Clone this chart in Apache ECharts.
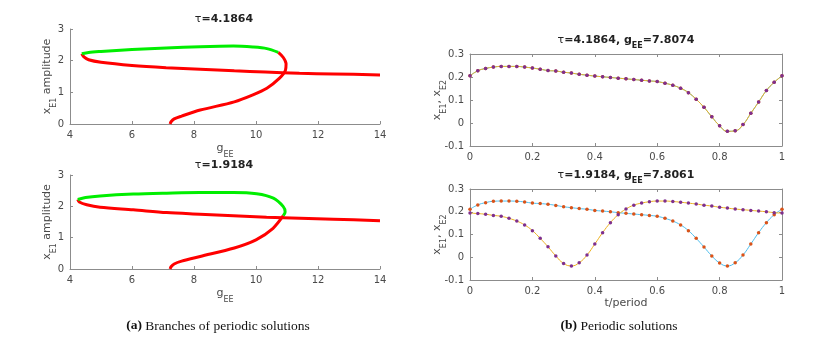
<!DOCTYPE html>
<html>
<head>
<meta charset="utf-8">
<script src="https://cdn.jsdelivr.net/npm/echarts@6/dist/echarts.min.js"></script>
<style>
  html, body { margin: 0; padding: 0; background: #fff; }
  #chart { width: 829px; height: 340px; }
</style>
</head>
<body>
<div id="chart"></div>
<script>
// branches, tau = 4.1864 (top left)
var t1RedLowG = [7.23, 7.26, 7.36, 7.6, 8.2, 9.3, 9.9, 10.35, 10.75, 10.95, 10.97, 10.88, 10.72];
var t1RedLowA = [0, 0.07, 0.16, 0.25, 0.44, 0.7, 0.92, 1.13, 1.44, 1.7, 1.9, 2.1, 2.26];
var t1GreenG = [10.72, 10.35, 9.9, 9.27, 8.2, 7.1, 6.0, 5.0, 4.6, 4.38];
var t1GreenA = [2.26, 2.38, 2.43, 2.46, 2.44, 2.4, 2.35, 2.29, 2.26, 2.22];
var t1RedUpG = [4.38, 4.45, 4.6, 5.0, 6.0, 7.1, 8.2, 9.3, 10.3, 11.4, 12.5, 14];
var t1RedUpA = [2.22, 2.12, 2.03, 1.95, 1.85, 1.78, 1.73, 1.68, 1.64, 1.6, 1.58, 1.55];

// branches, tau = 1.9184 (bottom left)
var t2RedLowG = [7.23, 7.26, 7.36, 7.6, 8.2, 9.3, 10.0, 10.55, 10.88];
var t2RedLowA = [0, 0.07, 0.16, 0.25, 0.4, 0.67, 0.93, 1.3, 1.7];
var t2GreenG = [10.88, 10.94, 10.88, 10.56, 10.02, 9.27, 8.19, 7.12, 6.04, 4.97, 4.5, 4.25];
var t2GreenA = [1.7, 1.82, 1.99, 2.26, 2.4, 2.44, 2.44, 2.42, 2.39, 2.33, 2.28, 2.22];
var t2RedUpG = [4.25, 4.3, 4.54, 4.97, 6.04, 7.12, 8.19, 9.27, 10.34, 11.42, 12.5, 14];
var t2RedUpA = [2.22, 2.14, 2.05, 1.97, 1.89, 1.8, 1.75, 1.7, 1.65, 1.62, 1.59, 1.54];

// periodic solutions, t/period
var tPeriod = [0, 0.025, 0.05, 0.075, 0.1, 0.125, 0.15, 0.175, 0.2, 0.225, 0.25, 0.275, 0.3, 0.325, 0.35, 0.375, 0.4,
  0.425, 0.45, 0.475, 0.5, 0.525, 0.55, 0.575, 0.6, 0.625, 0.65, 0.675, 0.7, 0.725, 0.75, 0.775, 0.8, 0.825, 0.85,
  0.875, 0.9, 0.925, 0.95, 0.975, 1];

// tau = 4.1864, gEE = 7.8074 (xE1 and xE2 coincide)
var sync = [0.205, 0.227, 0.237, 0.243, 0.246, 0.246, 0.246, 0.243, 0.239, 0.234, 0.228, 0.226, 0.221, 0.217, 0.212,
  0.208, 0.204, 0.201, 0.198, 0.195, 0.192, 0.189, 0.186, 0.183, 0.180, 0.173, 0.164, 0.151, 0.132, 0.103, 0.068,
  0.027, -0.012, -0.036, -0.034, -0.007, 0.042, 0.091, 0.141, 0.177, 0.205];

// tau = 1.9184, gEE = 7.8061
var antiE1 = [0.211, 0.230, 0.240, 0.246, 0.247, 0.247, 0.246, 0.243, 0.238, 0.236, 0.233, 0.228, 0.222, 0.218, 0.214,
  0.211, 0.206, 0.203, 0.200, 0.196, 0.193, 0.190, 0.187, 0.184, 0.180, 0.171, 0.159, 0.142, 0.117, 0.083, 0.045,
  0.006, -0.025, -0.038, -0.024, 0.010, 0.058, 0.108, 0.152, 0.187, 0.211];
var antiE2 = [0.194, 0.192, 0.189, 0.184, 0.180, 0.171, 0.159, 0.142, 0.117, 0.083, 0.046, 0.006, -0.027, -0.038,
  -0.024, 0.010, 0.058, 0.108, 0.152, 0.187, 0.212, 0.229, 0.238, 0.244, 0.247, 0.247, 0.245, 0.242, 0.238, 0.234,
  0.229, 0.225, 0.220, 0.216, 0.212, 0.209, 0.206, 0.203, 0.200, 0.196, 0.194];

var gTicks = [4, 14, 2];
var ampTicks = [0, 3, 1];
var solTicks = [-0.1, 0.3, 0.1];
var tTicks = [0, 1, 0.2];

var axisCol = '#8c8c8c';
var labCol = '#4a4a4a';
var sans = 'DejaVu Sans';

function pairs(xs, ys) {
  return xs.map(function (x, i) { return [x, ys[i]]; });
}

function mkAxis(grid, range, pos, showLab, extra) {
  var a = {
    type: 'value', gridIndex: grid, position: pos,
    min: range[0], max: range[1], interval: range[2],
    axisLine: { show: true, onZero: false, lineStyle: { color: axisCol, width: 1 } },
    axisTick: { show: true, inside: true, length: 3, lineStyle: { color: axisCol } },
    splitLine: { show: false },
    axisLabel: { show: showLab, color: labCol, fontFamily: sans, fontSize: 10, margin: 6,
      formatter: function (v) { return String(+v.toFixed(1)); } }
  };
  return Object.assign(a, extra || {});
}

var subRich = {
  n: { fontFamily: sans, fontSize: 11, color: labCol, lineHeight: 14 },
  s: { fontFamily: sans, fontSize: 8, color: labCol, verticalAlign: 'bottom', lineHeight: 8, padding: [0, 0, -4, 0] }
};
var gName = { name: '{n|g}{s|EE}', nameLocation: 'middle', nameGap: 17, nameTextStyle: { rich: subRich } };
var ampName = { name: '{n|x}{s|E1}{n| amplitude}', nameLocation: 'middle', nameGap: 16, nameRotate: 90,
  nameMoveOverlap: false, nameTextStyle: { rich: subRich } };
var solName = { name: '{n|x}{s|E1}{n|, x}{s|E2}', nameLocation: 'middle', nameGap: 26, nameRotate: 90,
  nameMoveOverlap: false, nameTextStyle: { rich: subRich } };
var tName = { name: 't/period', nameLocation: 'middle', nameGap: 18,
  nameTextStyle: { fontFamily: sans, fontSize: 11, color: labCol } };

var titleRich = {
  b: { fontFamily: sans, fontSize: 11, fontWeight: 'bold', color: '#222' },
  t: { fontFamily: sans, fontSize: 11, fontWeight: 'normal', color: '#222' },
  s: { fontFamily: sans, fontSize: 8, fontWeight: 'bold', color: '#222', verticalAlign: 'bottom', lineHeight: 8, padding: [0, 0, -4, 0] }
};
var capRich = {
  b: { fontFamily: 'Liberation Serif', fontSize: 13.5, fontWeight: 'bold', color: '#111' },
  n: { fontFamily: 'Liberation Serif', fontSize: 13.5, fontWeight: 'normal', color: '#111' }
};

function mkTitle(text, x, y, rich) {
  return { text: text, left: x, top: y, textAlign: 'center', padding: 0,
    textStyle: { fontWeight: 'normal', rich: rich } };
}

function branch(idx, xs, ys, color) {
  return { type: 'line', xAxisIndex: idx, yAxisIndex: idx, data: pairs(xs, ys), showSymbol: false,
    smooth: 0.3, lineStyle: { color: color, width: 3 }, itemStyle: { color: color }, z: color === '#00ee00' ? 3 : 2 };
}

function sol(idx, ys, lineCol, dotCol) {
  return { type: 'line', xAxisIndex: idx, yAxisIndex: idx, data: pairs(tPeriod, ys), smooth: 0.5,
    symbol: 'circle', symbolSize: 3.5, showSymbol: true,
    lineStyle: { color: lineCol, width: 1 }, itemStyle: { color: dotCol, borderWidth: 0 } };
}

var chart = echarts.init(document.getElementById('chart'), null, { renderer: 'canvas' });
chart.setOption({
  animation: false,
  backgroundColor: '#fff',
  title: [
    mkTitle('{t|τ}{b|=4.1864}', 224, 14, titleRich),
    mkTitle('{t|τ}{b|=1.9184}', 224, 160, titleRich),
    mkTitle('{t|τ}{b|=4.1864, g}{s|EE}{b|=7.8074}', 626, 35, titleRich),
    mkTitle('{t|τ}{b|=1.9184, g}{s|EE}{b|=7.8061}', 626, 170, titleRich),
    mkTitle('{b|(a)}{n| Branches of periodic solutions}', 218, 319, capRich),
    mkTitle('{b|(b)}{n| Periodic solutions}', 619, 319, capRich)
  ],
  grid: [
    { left: 70, top: 29, width: 310, height: 95 },
    { left: 70, top: 175, width: 310, height: 94 },
    { left: 470, top: 54, width: 312, height: 92 },
    { left: 470, top: 189, width: 312, height: 91 }
  ],
  xAxis: [
    mkAxis(0, gTicks, 'bottom', true, gName),
    mkAxis(1, gTicks, 'bottom', true, gName),
    mkAxis(2, tTicks, 'bottom', true),
    mkAxis(3, tTicks, 'bottom', true, tName),
    mkAxis(2, tTicks, 'top', false),
    mkAxis(3, tTicks, 'top', false)
  ],
  yAxis: [
    mkAxis(0, ampTicks, 'left', true, ampName),
    mkAxis(1, ampTicks, 'left', true, ampName),
    mkAxis(2, solTicks, 'left', true, solName),
    mkAxis(3, solTicks, 'left', true, solName),
    mkAxis(2, solTicks, 'right', false),
    mkAxis(3, solTicks, 'right', false)
  ],
  series: [
    branch(0, t1RedLowG, t1RedLowA, '#ff0000'),
    branch(0, t1RedUpG, t1RedUpA, '#ff0000'),
    branch(0, t1GreenG, t1GreenA, '#00ee00'),
    branch(1, t2RedLowG, t2RedLowA, '#ff0000'),
    branch(1, t2RedUpG, t2RedUpA, '#ff0000'),
    branch(1, t2GreenG, t2GreenA, '#00ee00'),
    sol(2, sync, '#4dbeee', '#d95319'),
    sol(2, sync, '#edb120', '#7e2f8e'),
    sol(3, antiE1, '#4dbeee', '#d95319'),
    sol(3, antiE2, '#edb120', '#7e2f8e')
  ]
});
</script>
</body>
</html>
